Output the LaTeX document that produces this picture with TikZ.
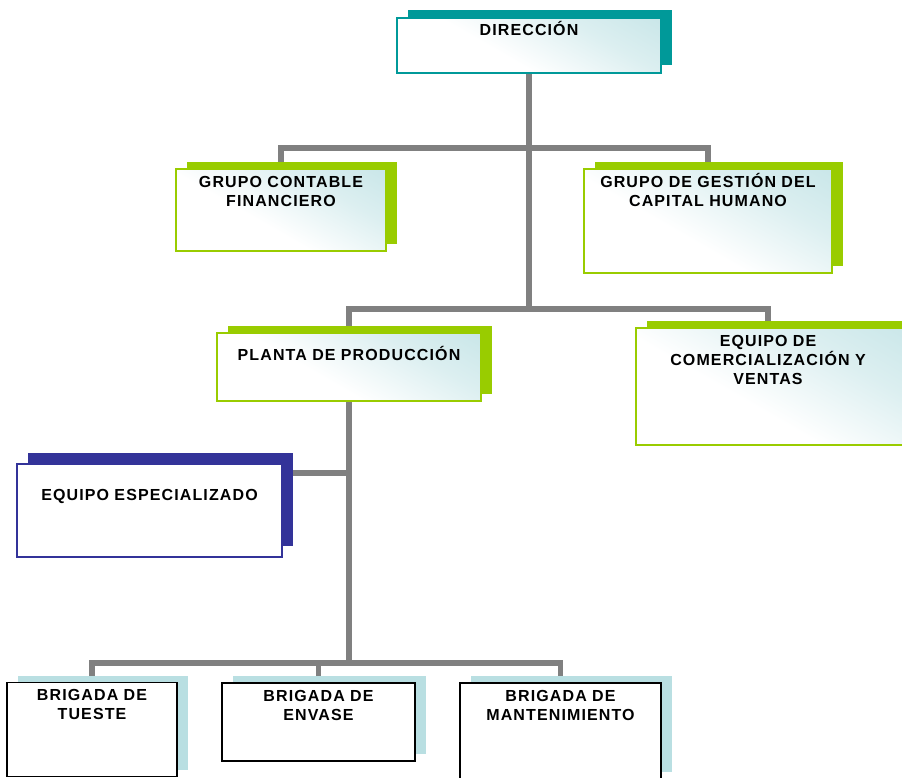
\documentclass[tikz,border=0pt]{standalone}
\usepackage{fontspec}
\newfontfamily\boxfont[LetterSpace=7]{Liberation Sans}
\usetikzlibrary{shadows,backgrounds}
\definecolor{tealc}{HTML}{009999}
\definecolor{limec}{HTML}{99CC00}
\definecolor{navyc}{HTML}{333399}
\definecolor{paleb}{HTML}{B9DFE2}
\definecolor{linec}{HTML}{808080}
\pgfdeclareverticalshading{glow}{100bp}{color(0bp)=(white); color(42bp)=(white); color(66bp)=(paleb!50!white); color(100bp)=(paleb)}
\tikzset{
  tint/.style={line width=1.6pt, shade, shading=glow, shading angle=-30},
  dirbox/.style={tint, draw=tealc, general shadow={fill=tealc, shadow xshift=11pt, shadow yshift=8pt}},
  grpbox/.style={tint, draw=limec, general shadow={fill=limec, shadow xshift=11pt, shadow yshift=7pt}},
  espbox/.style={draw=navyc, fill=white, line width=1.6pt, general shadow={fill=navyc, shadow xshift=11pt, shadow yshift=11pt}},
  brgbox/.style={draw=black, fill=white, line width=1.8pt, general shadow={fill=paleb, shadow xshift=11pt, shadow yshift=7pt}},
  txt/.style={anchor=north, text width=300pt, align=center, text height=12pt, inner sep=0pt, font=\boxfont\bfseries\fontsize{16}{19}\selectfont},
  conn/.style={draw=linec, line width=5.5pt}
}
\begin{document}
\begin{tikzpicture}[x=1pt,y=1pt]
\clip (0,0) rectangle (902,777);
\node[dirbox, minimum width=264pt, minimum height=55pt, label={[txt, yshift=-6pt]north:DIRECCIÓN}] (dir) at (529,731.5) {};
\node[grpbox, minimum width=210pt, minimum height=82pt, label={[txt, yshift=-7pt]north:GRUPO CONTABLE\\FINANCIERO}] (gcf) at (281,567) {};
\node[grpbox, minimum width=248pt, minimum height=104pt, label={[txt, yshift=-7pt]north:GRUPO DE GESTIÓN DEL\\CAPITAL HUMANO}] (ggh) at (708,556) {};
\node[grpbox, minimum width=264pt, minimum height=68pt, label={[txt, yshift=-16pt]north:PLANTA DE PRODUCCIÓN}] (pp) at (349,410) {};
\node[grpbox, minimum width=280pt, minimum height=117pt, label={[txt, xshift=-8pt, yshift=-7pt]north:EQUIPO DE\\COMERCIALIZACIÓN Y\\VENTAS}] (ecv) at (776,390.5) {};
\node[espbox, minimum width=265pt, minimum height=93pt, label={[txt, yshift=-25pt]north:EQUIPO ESPECIALIZADO}] (ees) at (149.5,266.5) {};
\node[brgbox, minimum width=170pt, minimum height=94pt, label={[txt, yshift=-7pt]north:BRIGADA DE\\TUESTE}] (bt) at (92,47.5) {};
\node[brgbox, minimum width=193pt, minimum height=78pt, label={[txt, yshift=-7pt]north:BRIGADA DE\\ENVASE}] (be) at (318.5,55) {};
\node[brgbox, minimum width=201pt, minimum height=96pt, label={[txt, yshift=-7pt]north:BRIGADA DE\\MANTENIMIENTO}] (bm) at (560.5,46) {};
\coordinate (j1) at (529,629);
\coordinate (j2) at (529,468);
\coordinate (j3) at (349,114);
\coordinate (j4) at (349,304);
\begin{scope}[on background layer]
\draw[conn] (dir.south) -- (j2);
\draw[conn] (gcf.north) |- (j1) -| (ggh.north);
\draw[conn] (pp.north) |- (j2) -| ([xshift=-8pt]ecv.north);
\draw[conn] (pp.south) -- (j3);
\draw[conn] (j4) -- (j4 -| ees.east);
\draw[conn] (bt.north) |- (j3) -| (bm.north);
\draw[conn] (be.north) |- (j3);
\end{scope}
\end{tikzpicture}
\end{document}
